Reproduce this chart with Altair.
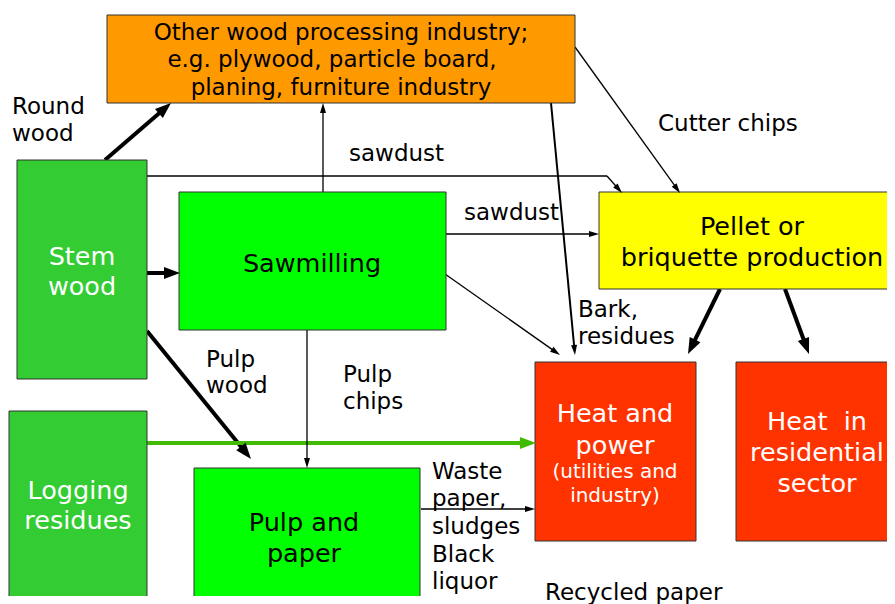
import math
import altair as alt
import pandas as pd

# ---- boxes (image pixel coordinates) ----
box_x1 = [107, 17, 179, 599, 535, 736, 9, 194]
box_x2 = [575, 147, 446, 905, 696, 905, 147, 420]
box_y1 = [15, 160, 192, 192, 362, 362, 411, 468]
box_y2 = [103, 379, 330, 289, 541, 541, 597, 620]
box_fill = ["#FF9900", "#33CC33", "#00FF00", "#FFFF00", "#FF3300", "#FF3300", "#33CC33", "#00FF00"]

# ---- arrows: start, tip, width, colour, head kind ----
ar_x1 = [105, 147, 147, 147, 720, 785, 147, 607, 323, 446, 445, 551, 575, 307, 421]
ar_y1 = [160, 273, 331, 443, 289, 289, 176, 176, 192, 234, 274, 103, 47, 330, 509]
ar_x2 = [171, 180, 251, 536, 688, 809, 607, 622, 323, 599, 560, 575, 680, 307, 535]
ar_y2 = [103, 273, 459, 443, 354, 354, 176, 193, 103, 234, 355, 355, 193, 468, 509]
ar_w = [4, 4, 4, 4, 4, 4, 1.3, 1.3, 1.3, 1.3, 1.3, 2, 1.3, 1.3, 1.3]
ar_col = ["#000000", "#000000", "#000000", "#40BB00", "#000000", "#000000", "#000000",
          "#000000", "#000000", "#000000", "#000000", "#000000", "#000000", "#000000", "#000000"]
ar_head = ["thick", "thick", "thick", "thick", "thick", "thick", "none",
           "thin", "thin", "thin", "thin", "thin", "thin", "thin", "thin"]

# ---- texts ----
t_text = ["Other wood processing industry;", "e.g. plywood, particle board,", "planing, furniture industry",
          "Stem", "wood", "Sawmilling", "Pellet or", "briquette production",
          "Heat and", "power", "(utilities and", "industry)",
          "Heat\u00a0 in", "residential", "sector", "Logging", "residues", "Pulp and", "paper"]
t_x = [341, 332, 341, 82, 82, 312, 752, 752, 615, 615, 615, 615, 817, 817, 817, 78, 78, 304, 304]
t_y = [33, 60, 88, 257, 287, 264, 227, 258, 414, 446, 472, 496, 422, 453, 484, 491, 521, 523, 554]
t_size = [23, 23, 23, 25.5, 25.5, 25.5, 25.5, 25.5, 25.5, 25.5, 20, 20, 25.5, 25.5, 25.5, 25.5, 25.5, 25.5, 25.5]
t_col = ["#000000"] * 3 + ["#FFFFFF"] * 2 + ["#000000"] * 3 + ["#FFFFFF"] * 9 + ["#000000"] * 2

l_text = ["Round", "wood", "sawdust", "Cutter chips", "sawdust", "Bark,", "residues",
          "Pulp", "wood", "Pulp", "chips", "Waste", "paper,", "sludges", "Black", "liquor",
          "Recycled paper"]
l_x = [12, 12, 349, 658, 464, 578, 578, 206, 206, 343, 343, 432, 432, 432, 432, 432, 545]
l_y = [107, 134, 154, 124, 213, 310, 337, 360, 386, 375, 402, 472, 499, 527, 555, 582, 593]

HEADS = {"thick": (16, "M0,-1L0.75,1L-0.75,1Z"), "thin": (10, "M0,-1L0.6,1L-0.6,1Z")}

rows, heads = [], []
for x1, y1, x2, y2, w, c, h in zip(ar_x1, ar_y1, ar_x2, ar_y2, ar_w, ar_col, ar_head):
    dx, dy = x2 - x1, y2 - y1
    n = math.hypot(dx, dy)
    ux, uy = dx / n, dy / n
    if h == "none":
        rows.append(dict(x=x1, y=y1, x2=x2, y2=y2, w=w, c=c))
        continue
    L, shp = HEADS[h]
    cx, cy = x2 - ux * L / 2, y2 - uy * L / 2
    rows.append(dict(x=x1, y=y1, x2=cx, y2=cy, w=w, c=c))
    ang = math.degrees(math.atan2(dx, -dy)) % 360
    heads.append(dict(x=cx, y=cy, a=ang, c=c, kind=h, s=L * L))

boxes = pd.DataFrame(dict(x=box_x1, x2=box_x2, y=box_y1, y2=box_y2, f=box_fill))
lines = pd.DataFrame(rows)
hd = pd.DataFrame(heads)
txt = pd.DataFrame(dict(t=t_text, x=t_x, y=t_y, s=t_size, c=t_col))
lab = pd.DataFrame(dict(t=l_text, x=l_x, y=l_y))

X = alt.Scale(domain=[8, 887], nice=False, zero=False)
Y = alt.Scale(domain=[8, 596], nice=False, zero=False, reverse=True)

def xe(f="x"):
    return alt.X(f"{f}:Q", scale=X, axis=None)

def ye(f="y"):
    return alt.Y(f"{f}:Q", scale=Y, axis=None)

line_l = alt.Chart(lines).mark_rule(clip=True).encode(
    x=xe(), y=ye(), x2="x2:Q", y2="y2:Q",
    strokeWidth=alt.StrokeWidth("w:Q", scale=None),
    color=alt.Color("c:N", scale=None),
)
box_l = alt.Chart(boxes).mark_rect(clip=True, stroke="#333333", strokeWidth=1).encode(
    x=xe(), x2="x2:Q", y=ye(), y2="y2:Q", fill=alt.Fill("f:N", scale=None)
)
head_layers = []
for k, (L, shp) in HEADS.items():
    head_layers.append(
        alt.Chart(hd[hd.kind == k]).mark_point(shape=shp, filled=True, opacity=1, strokeWidth=0).encode(
            x=xe(), y=ye(), angle=alt.Angle("a:Q", scale=None),
            size=alt.Size("s:Q", scale=None), color=alt.Color("c:N", scale=None)
        )
    )
txt_l = alt.Chart(txt).mark_text(font="DejaVu Sans", align="center", baseline="middle").encode(
    x=xe(), y=ye(), text="t:N", size=alt.Size("s:Q", scale=None), color=alt.Color("c:N", scale=None)
)
lab_l = alt.Chart(lab).mark_text(font="DejaVu Sans", align="left", baseline="middle", fontSize=23, color="#000000").encode(
    x=xe(), y=ye(), text="t:N"
)

chart = alt.layer(line_l, box_l, *head_layers, txt_l, lab_l).properties(
    width=879, height=588, padding=0
).configure_view(stroke=None)

chart.save("out.html", embed_options={"renderer": "svg", "actions": False})
